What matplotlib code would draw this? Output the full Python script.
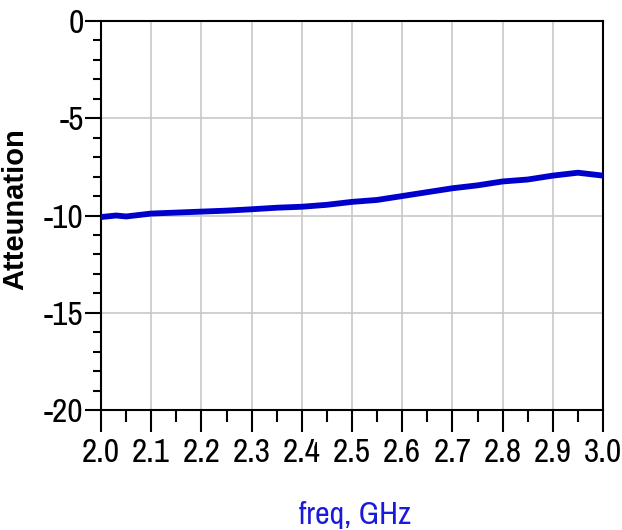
import numpy as np
import matplotlib.pyplot as plt
from matplotlib.ticker import MultipleLocator

# frequency sweep (GHz) and attenuation
freq = [2.00, 2.03, 2.05, 2.10, 2.15, 2.20, 2.25, 2.30, 2.35, 2.40, 2.45, 2.50,
        2.55, 2.60, 2.65, 2.70, 2.75, 2.80, 2.85, 2.90, 2.95, 3.00]
atten = [-10.08, -10.0, -10.05, -9.9, -9.85, -9.8, -9.75, -9.68, -9.6, -9.55, -9.45, -9.3,
         -9.2, -9.0, -8.8, -8.6, -8.45, -8.25, -8.15, -7.95, -7.8, -7.95]
xticks = [2.0, 2.1, 2.2, 2.3, 2.4, 2.5, 2.6, 2.7, 2.8, 2.9, 3.0]
yticks = [0, -5, -10, -15, -20]

narrow = ['Archivo Narrow', 'Liberation Sans', 'DejaVu Sans']

fig = plt.figure(figsize=(6.22, 5.30), dpi=100)
ax = fig.add_axes([101/622, 1 - 410/530, 502/622, 389/530])

ax.plot(freq, atten, color='#0000CC', lw=4.2, solid_capstyle='butt', zorder=3)

ax.set_xlim(2.0, 3.0)
ax.set_ylim(-20, 0)
ax.set_xticks(xticks)
ax.set_yticks(yticks)
ax.set_xticklabels([f'{v:.1f}' for v in xticks], family=narrow, fontsize=24)
ax.set_yticklabels([f'{v:d}' for v in yticks], family=narrow, fontsize=24)
ax.xaxis.set_minor_locator(MultipleLocator(0.05))
ax.yaxis.set_minor_locator(MultipleLocator(1))

ax.grid(True, which='major', color='#c8c8c8', lw=1.2, zorder=0)
for s in ax.spines.values():
    s.set_linewidth(1.5)
    s.set_color('black')

ax.tick_params(axis='x', which='major', direction='out', length=15.5, width=1.5, pad=5)
ax.tick_params(axis='x', which='minor', direction='out', length=8.5, width=1.5)
ax.tick_params(axis='y', which='major', direction='out', length=11.5, width=1.5, pad=1)
ax.tick_params(axis='y', which='minor', direction='out', length=5.8, width=1.5)

fig.text(15/622, 1 - 209/530, 'Atteunation', rotation=90, ha='center', va='center',
         family=['Liberation Sans', 'DejaVu Sans'], fontweight='bold', fontsize=21)
fig.text(355/622, 1 - 515/530, 'freq, GHz', ha='center', va='center',
         family=narrow, fontsize=23, color='#1a1adc')

fig.savefig('out.png', dpi=100)
